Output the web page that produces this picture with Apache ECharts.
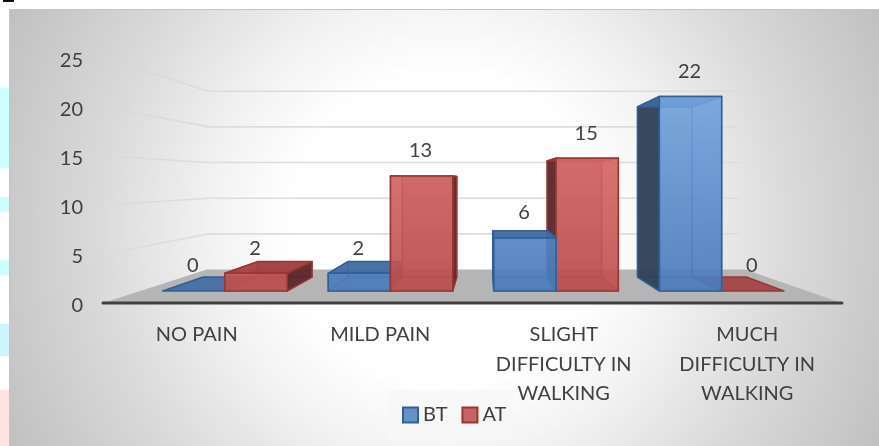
<!DOCTYPE html>
<html>
<head>
<meta charset="utf-8">
<style>html,body{margin:0;padding:0;background:#fff}#chart{width:879px;height:446px}</style>
<script src="https://cdn.jsdelivr.net/npm/echarts@6/dist/echarts.min.js"></script>
</head>
<body>
<div id="chart"></div>
<script>
// Pain grading before and after treatment
const categories = ['NO PAIN', 'MILD PAIN', 'SLIGHT\nDIFFICULTY IN\nWALKING', 'MUCH\nDIFFICULTY IN\nWALKING'];
const btValues = [0, 2, 6, 22];
const atValues = [2, 13, 15, 0];
const yTicks = [0, 5, 10, 15, 20, 25];

// Perspective model: the cartesian grid is the front plane of the box and
// depth t pulls a point towards the vanishing point.
const VANISH = [485, 180];
const DEPTH_BACK = 0.272;
const BAR_FRONT = 0.0976;
const BAR_BACK = 0.211;
const BAR_SHARE = 0.376;
const FONT = 'Lato';
const TEXT = '#404040';

const project = (p, t) => [p[0] + (VANISH[0] - p[0]) * t, p[1] + (VANISH[1] - p[1]) * t];
const vGrad = (top, bottom) => new echarts.graphic.LinearGradient(0, 97, 0, 291,
  [{offset: 0, color: top}, {offset: 1, color: bottom}], true);

const palette = {
  BT: {front: vGrad('rgba(118,166,226,0.84)', 'rgba(72,122,186,0.84)'),
       side: 'rgba(44,60,82,0.9)', inside: 'rgba(70,118,180,0.45)', top: 'rgba(62,106,160,0.9)',
       back: 'rgba(70,112,165,0.45)', edge: '#2f6097', inner: 'rgba(60,110,172,0.85)', legend: '#6690c8'},
  AT: {front: vGrad('rgba(228,116,114,0.84)', 'rgba(190,80,78,0.84)'),
       side: 'rgba(84,36,38,0.86)', inside: 'rgba(170,70,68,0.45)', top: 'rgba(160,62,60,0.88)',
       back: 'rgba(140,66,64,0.66)', edge: '#9b3533', inner: 'rgba(170,58,56,0.85)', legend: '#c96362'}
};

function poly(points, fill, stroke, z2, width) {
  return {type: 'polygon', z2, shape: {points},
    style: {fill, stroke: stroke || 'none', lineWidth: width || 1.5, lineJoin: 'round'}};
}

// Draws one translucent box per data row, with its value above the front face.
function renderBar(name, side) {
  return function (params, api) {
    const c = palette[name];
    const idx = api.value(0), val = api.value(1);
    const band = api.size([1, 0])[0];
    const base = api.coord([idx, 0]), topPt = api.coord([idx, val]);
    const x0 = side < 0 ? base[0] - band * BAR_SHARE : base[0];
    const x1 = side < 0 ? base[0] : base[0] + band * BAR_SHARE;
    const corner = (x, y, t) => project([x, y], t);
    const fbl = corner(x0, base[1], BAR_FRONT), fbr = corner(x1, base[1], BAR_FRONT);
    const ftl = corner(x0, topPt[1], BAR_FRONT), ftr = corner(x1, topPt[1], BAR_FRONT);
    const bbl = corner(x0, base[1], BAR_BACK), bbr = corner(x1, base[1], BAR_BACK);
    const btl = corner(x0, topPt[1], BAR_BACK), btr = corner(x1, topPt[1], BAR_BACK);
    // Boxes nearer the vanishing line sit behind the outer ones.
    const order = 1000 - Math.abs((x0 + x1) / 2 - VANISH[0]);
    const z = n => order + n * 0.01;
    const children = [];
    if (val > 0) {
      children.push(poly([bbl, bbr, btr, btl], c.back, c.inner, z(0), 1.2));
      children.push(poly([bbl, fbl, fbr, bbr], c.back, c.inner, z(1), 1.2));
      // Only the side turned away from the vanishing line is seen from outside.
      const leftOuter = x0 > VANISH[0], rightOuter = x1 < VANISH[0];
      children.push(poly([fbl, bbl, btl, ftl], leftOuter ? c.side : c.inside, leftOuter ? c.edge : c.inner, z(leftOuter ? 2.5 : 2)));
      children.push(poly([fbr, bbr, btr, ftr], rightOuter ? c.side : c.inside, rightOuter ? c.edge : c.inner, z(rightOuter ? 2.5 : 2)));
    }
    children.push(poly([ftl, ftr, btr, btl], c.top, c.edge, z(3)));
    if (val > 0) children.push(poly([fbl, fbr, ftr, ftl], c.front, c.edge, z(4)));
    children.push({
      type: 'text', z2: 3000,
      style: {x: (ftl[0] + ftr[0]) / 2 - 1, y: ftl[1] - 25, text: String(val),
        fill: TEXT, font: '20px ' + FONT, align: 'center', verticalAlign: 'middle'}
    });
    return {type: 'group', children};
  };
}

// Floor, walls' gridlines and the front edge of the box.
function renderScene(params, api) {
  const sys = params.coordSys;
  const left = sys.x, right = sys.x + sys.width, front = sys.y + sys.height;
  const floorL = [left - 2, front], floorR = [right + 3, front];
  const children = [
    poly([floorL, floorR, project(floorR, DEPTH_BACK), project(floorL, DEPTH_BACK)], '#b5b5b5', null, 1)
  ];
  yTicks.forEach(v => {
    if (v === 0) return;
    const y = api.coord([0, v])[1];
    const a = [left, y], b = project(a, DEPTH_BACK), c = project([right - 4, y], DEPTH_BACK);
    const fade = new echarts.graphic.LinearGradient(a[0], 0, b[0], 0,
      [{offset: 0, color: 'rgba(205,205,205,0.1)'}, {offset: 1, color: '#dcdcdc'}], true);
    children.push({type: 'polyline', z2: 0, shape: {points: [a, b]},
      style: {fill: 'none', stroke: fade, lineWidth: 1.6}});
    children.push({type: 'polyline', z2: 0, shape: {points: [b, c]},
      style: {fill: 'none', stroke: '#dcdcdc', lineWidth: 1.6}});
  });
  children.push({type: 'line', z2: 2, shape: {x1: floorL[0], y1: front, x2: floorR[0], y2: front},
    style: {stroke: '#404040', lineWidth: 3, lineCap: 'round'}});
  return {type: 'group', children};
}

const rows = values => values.map((v, i) => [i, v]);
const chart = echarts.init(document.getElementById('chart'), null, {renderer: 'canvas'});

chart.setOption({
  animation: false,
  backgroundColor: '#fff',
  textStyle: {fontFamily: FONT},
  // Page strip beside the chart panel, then the panel itself
  graphic: {elements: [
    {type: 'rect', z: -20, shape: {x: 0, y: 88, width: 9, height: 80}, style: {fill: '#ccffff'}},
    {type: 'rect', z: -20, shape: {x: 0, y: 197, width: 9, height: 15}, style: {fill: '#ccffff'}},
    {type: 'rect', z: -20, shape: {x: 0, y: 260, width: 9, height: 15}, style: {fill: '#ccffff'}},
    {type: 'rect', z: -20, shape: {x: 0, y: 324, width: 9, height: 32}, style: {fill: '#ccf5ff'}},
    {type: 'rect', z: -20, shape: {x: 0, y: 390, width: 9, height: 56}, style: {fill: '#ffe3e3'}},
    {type: 'rect', z: -20, shape: {x: 3, y: 0, width: 11, height: 2}, style: {fill: '#111'}},
    {type: 'rect', z: -10, shape: {x: 9.5, y: 9.5, width: 872, height: 440},
      style: {stroke: '#c4c4c4', lineWidth: 1,
        fill: new echarts.graphic.RadialGradient(445, 228, 510, [
          {offset: 0.3, color: '#ffffff'},
          {offset: 0.45, color: '#f3f3f3'},
          {offset: 0.68, color: '#dadada'},
          {offset: 1, color: '#bcbcbc'}
        ], true)}}
  ]},
  grid: {left: 105, width: 734, top: 58, height: 245, containLabel: false},
  xAxis: {
    type: 'category', data: categories,
    axisLine: {show: false}, axisTick: {show: false},
    axisLabel: {color: TEXT, fontSize: 20, fontFamily: FONT, lineHeight: 29.5, margin: 17, interval: 0, verticalAlign: 'top'}
  },
  yAxis: {
    type: 'value', min: 0, max: 25, interval: 5,
    axisLine: {show: false}, axisTick: {show: false}, splitLine: {show: false},
    axisLabel: {color: TEXT, fontSize: 20, fontFamily: FONT, margin: 22, verticalAlign: 'top', lineHeight: 5}
  },
  legend: {
    data: ['BT', 'AT'], left: 388, top: 390, padding: [15, 6, 15, 14],
    backgroundColor: 'rgba(247,247,247,0.85)',
    itemWidth: 15, itemHeight: 15, itemGap: 14, icon: 'rect',
    textStyle: {color: TEXT, fontSize: 20, fontFamily: FONT}
  },
  series: [
    {type: 'custom', name: 'scene', data: [[0, 0]], renderItem: renderScene, z: 1, silent: true, clip: false},
    {type: 'custom', name: 'BT', data: rows(btValues), renderItem: renderBar('BT', -1), z: 2, clip: false,
      encode: {x: 0, y: 1}, itemStyle: {color: palette.BT.legend, borderColor: palette.BT.edge, borderWidth: 1.5}},
    {type: 'custom', name: 'AT', data: rows(atValues), renderItem: renderBar('AT', 1), z: 2, clip: false,
      encode: {x: 0, y: 1}, itemStyle: {color: palette.AT.legend, borderColor: palette.AT.edge, borderWidth: 1.5}}
  ]
});
</script>
</body>
</html>
